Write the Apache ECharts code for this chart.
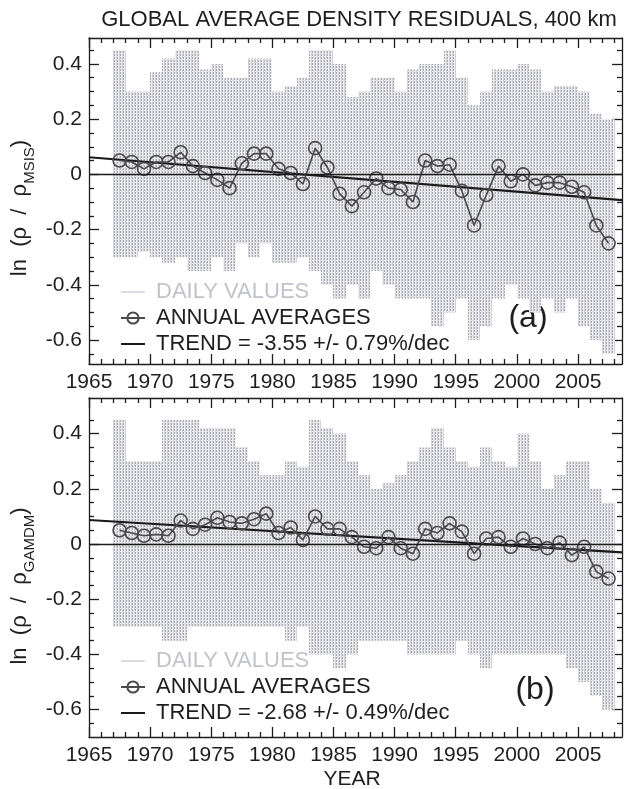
<!DOCTYPE html>
<html><head><meta charset="utf-8">
<script src="https://cdn.jsdelivr.net/npm/echarts@6/dist/echarts.min.js"></script>
<style>html,body{margin:0;padding:0;background:#fff}#c{width:630px;height:789px}</style>
</head><body><div id="c"></div>
<script>
// ---------------- data ----------------
const years = [1967.5,1968.5,1969.5,1970.5,1971.5,1972.5,1973.5,1974.5,1975.5,1976.5,
  1977.5,1978.5,1979.5,1980.5,1981.5,1982.5,1983.5,1984.5,1985.5,1986.5,
  1987.5,1988.5,1989.5,1990.5,1991.5,1992.5,1993.5,1994.5,1995.5,1996.5,
  1997.5,1998.5,1999.5,2000.5,2001.5,2002.5,2003.5,2004.5,2005.5,2006.5,2007.5];
const annualA = [0.05,0.045,0.02,0.045,0.045,0.08,0.03,0.005,-0.02,-0.05,
  0.04,0.075,0.075,0.02,0.005,-0.035,0.095,0.025,-0.07,-0.115,
  -0.065,-0.015,-0.05,-0.055,-0.1,0.05,0.03,0.035,-0.06,-0.185,
  -0.075,0.03,-0.025,0,-0.04,-0.03,-0.03,-0.045,-0.065,-0.185,-0.25];
const annualB = [0.05,0.04,0.03,0.035,0.03,0.085,0.055,0.07,0.095,0.08,
  0.075,0.09,0.11,0.04,0.06,0.015,0.1,0.055,0.055,0.025,
  -0.01,-0.015,0.025,-0.015,-0.035,0.055,0.04,0.075,0.045,-0.035,
  0.02,0.025,-0.01,0.02,0,-0.015,0.005,-0.04,-0.01,-0.1,-0.125];
const trendA = [[1965,0.062],[2008.6,-0.093]];
const trendB = [[1965,0.087],[2008.6,-0.030]];
const trendNameA = 'TREND = -3.55 +/- 0.79%/dec';
const trendNameB = 'TREND = -2.68 +/- 0.49%/dec';
// daily values: yearly bins (start year), upper and lower extent
const dailyBins = [1967,1968,1969,1970,1971,1972,1973,1974,1975,1976,
  1977,1978,1979,1980,1981,1982,1983,1984,1985,1986,
  1987,1988,1989,1990,1991,1992,1993,1994,1995,1996,
  1997,1998,1999,2000,2001,2002,2003,2004,2005,2006,2007];
const dailyHighA = [0.45,0.3,0.3,0.37,0.42,0.45,0.45,0.38,0.4,0.35,
  0.35,0.42,0.42,0.3,0.32,0.35,0.45,0.45,0.4,0.28,
  0.3,0.35,0.35,0.3,0.38,0.4,0.4,0.45,0.35,0.25,
  0.3,0.38,0.38,0.4,0.38,0.3,0.32,0.32,0.3,0.22,0.2];
const dailyLowA = [-0.3,-0.3,-0.28,-0.3,-0.32,-0.3,-0.35,-0.35,-0.3,-0.35,
  -0.25,-0.3,-0.25,-0.32,-0.32,-0.3,-0.35,-0.4,-0.45,-0.4,
  -0.45,-0.35,-0.4,-0.45,-0.45,-0.45,-0.55,-0.5,-0.45,-0.6,
  -0.55,-0.45,-0.4,-0.45,-0.5,-0.45,-0.5,-0.45,-0.55,-0.6,-0.65];
const dailyHighB = [0.45,0.3,0.3,0.3,0.45,0.45,0.45,0.42,0.42,0.42,
  0.35,0.3,0.25,0.25,0.3,0.28,0.45,0.42,0.4,0.3,
  0.25,0.2,0.22,0.25,0.3,0.35,0.42,0.35,0.3,0.28,
  0.35,0.3,0.28,0.4,0.3,0.2,0.25,0.3,0.3,0.2,0.15];
const dailyLowB = [-0.3,-0.3,-0.3,-0.3,-0.35,-0.35,-0.3,-0.3,-0.3,-0.3,
  -0.3,-0.3,-0.3,-0.3,-0.35,-0.3,-0.4,-0.4,-0.45,-0.4,
  -0.35,-0.35,-0.35,-0.35,-0.4,-0.4,-0.4,-0.4,-0.35,-0.4,
  -0.45,-0.4,-0.4,-0.4,-0.4,-0.4,-0.4,-0.45,-0.5,-0.55,-0.6];
const xMajor = [1965,1970,1975,1980,1985,1990,1995,2000,2005];
const xMinor = [1966,1967,1968,1969,1971,1972,1973,1974,1976,1977,1978,1979,1981,1982,1983,1984,
  1986,1987,1988,1989,1991,1992,1993,1994,1996,1997,1998,1999,2001,2002,2003,2004,2006,2007,2008];
const yMajor = [-0.6,-0.4,-0.2,0,0.2,0.4];
const yMinor = [-0.65,-0.55,-0.5,-0.45,-0.35,-0.3,-0.25,-0.15,-0.1,-0.05,0.05,0.1,0.15,0.25,0.3,0.35,0.45];
const X_MIN = 1965, X_MAX = 2008.6;
const Y_A = [-0.687, 0.494];
const Y_B = [-0.699, 0.529];

// ---------------- styles ----------------
const FONT = 'Liberation Sans';
const INK = '#1e1e1e';
const pc = document.createElement('canvas');
pc.width = 3; pc.height = 3;
const pctx = pc.getContext('2d');
pctx.fillStyle = '#efeff1'; pctx.fillRect(0,0,3,3);
pctx.fillStyle = '#a8a9b0'; pctx.fillRect(0,0,1,2);
pctx.fillStyle = '#d3d4d9'; pctx.fillRect(2,0,1,3);
const hatch = {image: pc, repeat: 'repeat'};

function xAxes(g) {
  const base = {type:'value', gridIndex:g, min:X_MIN, max:X_MAX, splitLine:{show:false}};
  const ln = {color: INK, width: 1.3};
  return [
    Object.assign({}, base, {position:'bottom',
      axisLine:{show:true, onZero:false, lineStyle:ln},
      axisTick:{show:true, inside:true, length:10, customValues:xMajor, lineStyle:ln},
      axisLabel:{show:true, customValues:xMajor, margin:8, fontSize:21, fontFamily:FONT, color:INK,
        formatter: v => String(Math.round(v))}}),
    Object.assign({}, base, {position:'bottom',
      axisLine:{show:false, onZero:false},
      axisTick:{show:true, inside:true, length:5, customValues:xMinor, lineStyle:ln},
      axisLabel:{show:false}}),
    Object.assign({}, base, {position:'top',
      axisLine:{show:true, onZero:false, lineStyle:ln},
      axisTick:{show:true, inside:true, length:10, customValues:xMajor, lineStyle:ln},
      axisLabel:{show:false}}),
    Object.assign({}, base, {position:'top',
      axisLine:{show:false, onZero:false},
      axisTick:{show:true, inside:true, length:5, customValues:xMinor, lineStyle:ln},
      axisLabel:{show:false}})
  ];
}
function yAxes(g, rng) {
  const base = {type:'value', gridIndex:g, min:rng[0], max:rng[1], splitLine:{show:false}};
  const ln = {color: INK, width: 1.3};
  return [
    Object.assign({}, base, {position:'left',
      axisLine:{show:true, onZero:false, lineStyle:ln},
      axisTick:{show:true, inside:true, length:10, customValues:yMajor, lineStyle:ln},
      axisLabel:{show:true, customValues:yMajor, margin:7, fontSize:21, fontFamily:FONT, color:INK,
        formatter: v => (Math.abs(v) < 1e-9 ? '0' : v.toFixed(1))}}),
    Object.assign({}, base, {position:'left',
      axisLine:{show:false, onZero:false},
      axisTick:{show:true, inside:true, length:5, customValues:yMinor, lineStyle:ln},
      axisLabel:{show:false}}),
    Object.assign({}, base, {position:'right',
      axisLine:{show:true, onZero:false, lineStyle:ln},
      axisTick:{show:true, inside:true, length:10, customValues:yMajor, lineStyle:ln},
      axisLabel:{show:false}}),
    Object.assign({}, base, {position:'right',
      axisLine:{show:false, onZero:false},
      axisTick:{show:true, inside:true, length:5, customValues:yMinor, lineStyle:ln},
      axisLabel:{show:false}})
  ];
}

function dailySeries(axisIdx, highs, lows) {
  return {
    type:'custom', name:'DAILY VALUES', xAxisIndex:axisIdx, yAxisIndex:axisIdx, z:1,
    itemStyle:{color:'#c4c5cc'},
    data: dailyBins.map((b,i) => [b, lows[i], highs[i]]),
    renderItem: function(params, api) {
      const x0 = api.value(0);
      const p1 = api.coord([x0, api.value(2)]);
      const p2 = api.coord([x0 + 1, api.value(1)]);
      return {type:'rect', shape:{x:Math.round(p1[0]), y:p1[1], width:Math.round(p2[0])-Math.round(p1[0]), height:p2[1]-p1[1]},
        style:{fill: hatch}};
    }
  };
}
function annualSeries(axisIdx, vals) {
  return {type:'line', name:'ANNUAL AVERAGES', xAxisIndex:axisIdx, yAxisIndex:axisIdx, z:4,
    data: years.map((y,i) => [y, vals[i]]),
    symbol:'circle', symbolSize:13,
    lineStyle:{color:'#4a4a4a', width:1.6},
    itemStyle:{color:'rgba(0,0,0,0)', borderColor:'#4a4a4a', borderWidth:1.6}};
}
function trendSeries(axisIdx, data, name) {
  return {type:'line', name:name, xAxisIndex:axisIdx, yAxisIndex:axisIdx, z:3,
    data:data, symbol:'none', lineStyle:{color:'#1a1a1a', width:2.2}, itemStyle:{color:'#1a1a1a'},
    markLine:{silent:true, symbol:'none', label:{show:false},
      lineStyle:{color:'#1a1a1a', width:1.3, type:'solid'}, data:[{yAxis:0}]}};
}

function legendFor(top, trendName) {
  return {orient:'vertical', left:115, top:top, itemGap:4, itemWidth:24, itemHeight:14,
    textStyle:{fontSize:22, fontFamily:FONT, color:INK, lineHeight:22, padding:[0,0,0,6]},
    selectedMode:false,
    data:[
      {name:'DAILY VALUES', icon:'path://M0,0 H40 V2 H0 Z', itemStyle:{color:'#c4c5cc'},
        textStyle:{color:'#c2c3ca'}},
      {name:'ANNUAL AVERAGES'},
      {name:trendName, icon:'path://M0,0 H40 V3.4 H0 Z', itemStyle:{color:'#1a1a1a'}}
    ]};
}

const yTitleRich = {a:{fontSize:22, fontFamily:FONT, fill:INK, lineHeight:24},
  s:{fontSize:15, fontFamily:FONT, fill:INK, verticalAlign:'bottom', lineHeight:34}};

const chart = echarts.init(document.getElementById('c'), null, {renderer:'canvas'});
chart.setOption({
  backgroundColor:'#ffffff',
  animation:false,
  grid:[
    {left:89, right:8, top:38, height:326},
    {left:89, right:8, top:398, height:339}
  ],
  xAxis: xAxes(0).concat(xAxes(1)),
  yAxis: yAxes(0, Y_A).concat(yAxes(1, Y_B)),
  legend:[legendFor(276, trendNameA), legendFor(645, trendNameB)],
  series:[
    dailySeries(0, dailyHighA, dailyLowA),
    trendSeries(0, trendA, trendNameA),
    annualSeries(0, annualA),
    dailySeries(4, dailyHighB, dailyLowB),
    trendSeries(4, trendB, trendNameB),
    annualSeries(4, annualB)
  ],
  graphic:[
    {type:'text', x:359, y:20, style:{text:'GLOBAL AVERAGE DENSITY RESIDUALS, 400 km',
      fontSize:22, fontFamily:FONT, fill:INK, align:'center', verticalAlign:'middle'}},
    {type:'text', x:20, y:208, rotation:Math.PI/2, style:{text:'{a|ln  (ρ  /  ρ}{s|MSIS}{a|)}',
      align:'center', verticalAlign:'middle', rich:yTitleRich}},
    {type:'text', x:20, y:586, rotation:Math.PI/2, style:{text:'{a|ln  (ρ  /  ρ}{s|GAMDM}{a|)}',
      align:'center', verticalAlign:'middle', rich:yTitleRich}},
    {type:'text', x:528, y:318, style:{text:'(a)', fontSize:32, fontFamily:FONT, fill:INK,
      align:'center', verticalAlign:'middle'}},
    {type:'text', x:535, y:690, style:{text:'(b)', fontSize:32, fontFamily:FONT, fill:INK,
      align:'center', verticalAlign:'middle'}},
    {type:'text', x:352, y:779, style:{text:'YEAR', fontSize:21, fontFamily:FONT, fill:INK,
      align:'center', verticalAlign:'middle'}}
  ]
});
</script></body></html>
